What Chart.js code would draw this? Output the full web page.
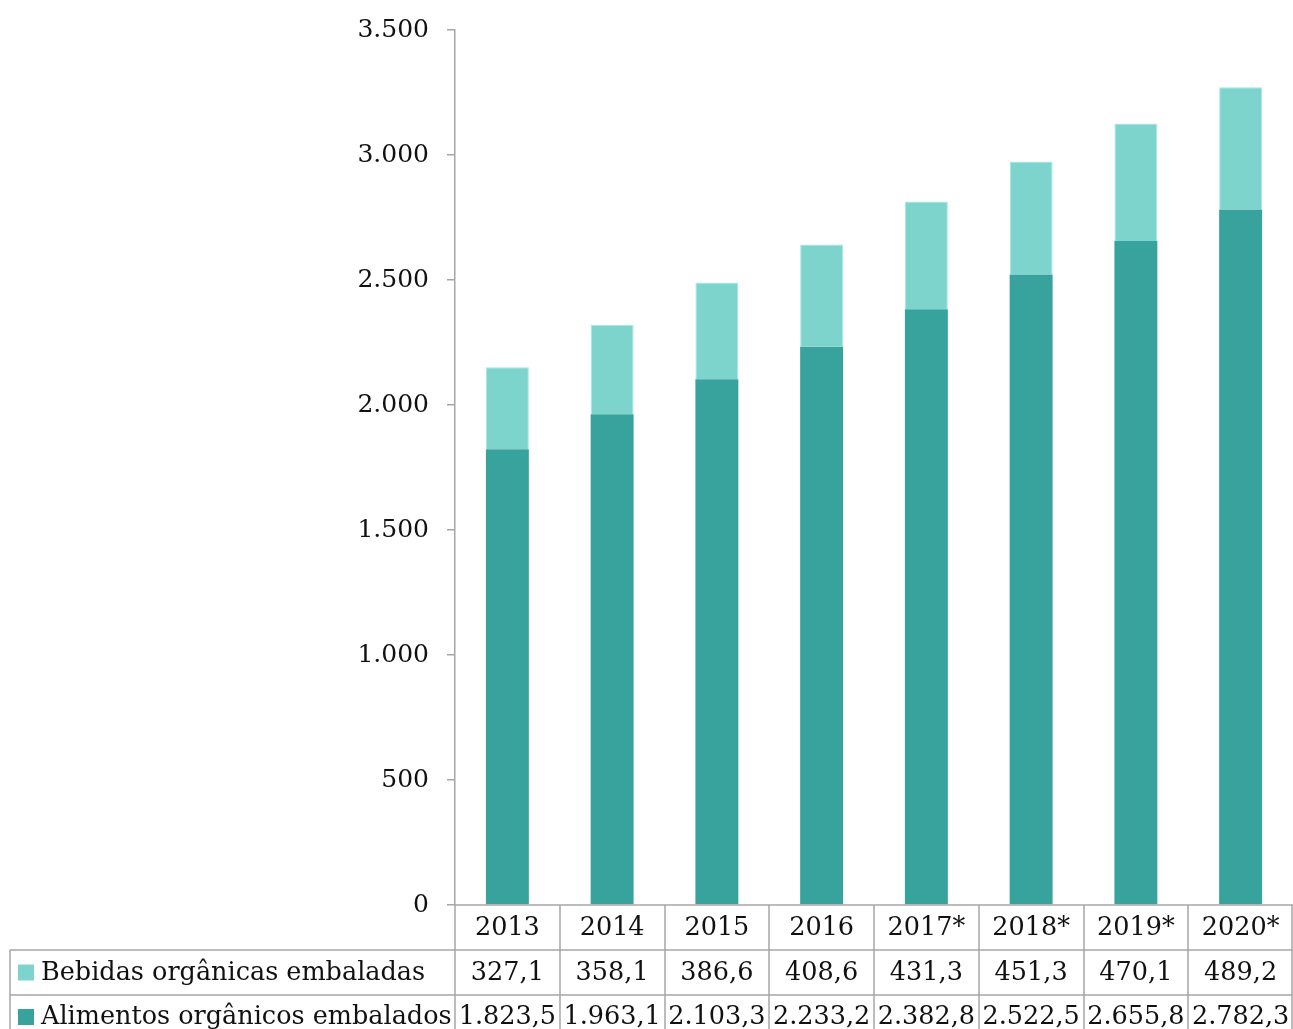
<!DOCTYPE html>
<html>
<head>
<meta charset="utf-8">
<script src="https://cdn.jsdelivr.net/npm/chart.js@4/dist/chart.umd.min.js"></script>
<style>
  html, body { margin: 0; padding: 0; background: #fff; }
  #wrap { width: 1293px; height: 1029px; }
</style>
</head>
<body>
<div id="wrap"><canvas id="mychart" width="1293" height="1029"></canvas></div>
<script>
var anos = ['2013', '2014', '2015', '2016', '2017*', '2018*', '2019*', '2020*'];
var bebidas = [327.1, 358.1, 386.6, 408.6, 431.3, 451.3, 470.1, 489.2];
var alimentos = [1823.5, 1963.1, 2103.3, 2233.2, 2382.8, 2522.5, 2655.8, 2782.3];
var yTicks = [0, 500, 1000, 1500, 2000, 2500, 3000, 3500];

var corEscura = '#37a39c';
var corClara = '#7dd4cd';
var corLinha = '#a6a6a6';
var fonte = '"DejaVu Serif", "Liberation Serif", serif';

// formato brasileiro: 3.500 / 1.823,5
function fmt(v, dec) {
    var s = v.toFixed(dec);
    var partes = s.split('.');
    var inteiro = partes[0].replace(/\B(?=(\d{3})+(?!\d))/g, '.');
    return partes.length > 1 ? inteiro + ',' + partes[1] : inteiro;
}

// desenha a tabela de dados embaixo do grafico
var tabelaPlugin = {
    id: 'tabela',
    afterDraw: function(chart) {
        var ctx = chart.ctx;
        var area = chart.chartArea;
        var x = chart.scales.x;
        var n = anos.length;
        var larg = (area.right - area.left) / n;
        var y0 = area.bottom, y1 = y0 + 45, y2 = y1 + 45, y3 = chart.height + 5;
        var esq = 10;

        ctx.save();
        ctx.strokeStyle = corLinha;
        ctx.lineWidth = 1.5;
        ctx.beginPath();
        // linhas horizontais
        ctx.moveTo(area.left, y0); ctx.lineTo(area.right, y0);
        ctx.moveTo(esq, y1); ctx.lineTo(area.right, y1);
        ctx.moveTo(esq, y2); ctx.lineTo(area.right, y2);
        // verticais
        ctx.moveTo(esq, y1); ctx.lineTo(esq, y3);
        for (var i = 0; i <= n; i++) {
            var xx = Math.round(area.left + i * larg) - (i == n ? 1 : 0);
            ctx.moveTo(xx, y0); ctx.lineTo(xx, y3);
        }
        ctx.stroke();

        ctx.fillStyle = '#111';
        ctx.font = '25.5px ' + fonte;
        ctx.textAlign = 'center';
        ctx.textBaseline = 'middle';
        for (var j = 0; j < n; j++) {
            var cx = x.getPixelForValue(j);
            ctx.fillText(anos[j], cx, (y0 + y1) / 2 + 1);
            ctx.fillText(fmt(bebidas[j], 1), cx, (y1 + y2) / 2 + 1);
            ctx.fillText(fmt(alimentos[j], 1), cx, y2 + 22);
        }

        // legenda
        ctx.textAlign = 'left';
        ctx.fillStyle = corClara;
        ctx.fillRect(18, (y1 + y2) / 2 - 8, 16, 16);
        ctx.fillStyle = corEscura;
        ctx.fillRect(18, y2 + 14, 16, 16);
        ctx.fillStyle = '#111';
        ctx.fillText('Bebidas orgânicas embaladas', 41, (y1 + y2) / 2 + 1);
        ctx.fillText('Alimentos orgânicos embalados', 41, y2 + 22);
        ctx.restore();
    }
};

var config = {
    type: 'bar',
    data: {
        labels: anos,
        datasets: [{
            label: 'Alimentos orgânicos embalados',
            data: alimentos,
            backgroundColor: corEscura,
            borderWidth: 0,
            barPercentage: 0.41,
            categoryPercentage: 1
        }, {
            label: 'Bebidas orgânicas embaladas',
            data: bebidas,
            backgroundColor: corClara,
            borderColor: '#a8e6e1',
            borderWidth: 1,
            barPercentage: 0.41,
            categoryPercentage: 1
        }]
    },
    options: {
        responsive: false,
        animation: false,
        layout: { padding: { left: 0, top: 30, right: 0, bottom: 124 } },
        plugins: { legend: { display: false }, tooltip: { enabled: false } },
        scales: {
            x: { stacked: true, display: false },
            y: {
                stacked: true,
                min: 0,
                max: 3500,
                afterFit: function(scale) {
                    scale.width = 455;
                    scale.paddingTop = 0;
                    scale.paddingBottom = 0;
                },
                afterBuildTicks: function(scale) {
                    scale.ticks = yTicks.map(function(v) { return { value: v }; });
                },
                border: { color: corLinha, width: 1.5 },
                grid: { drawOnChartArea: false, color: corLinha, lineWidth: 1.5, tickLength: 8 },
                ticks: {
                    padding: 18,
                    color: '#111',
                    font: { family: fonte, size: 25 },
                    callback: function(v) { return fmt(v, 0); }
                }
            }
        }
    },
    plugins: [tabelaPlugin]
};

var ctx = document.getElementById('mychart').getContext('2d');
window.grafico = new Chart(ctx, config);
</script>
</body>
</html>
